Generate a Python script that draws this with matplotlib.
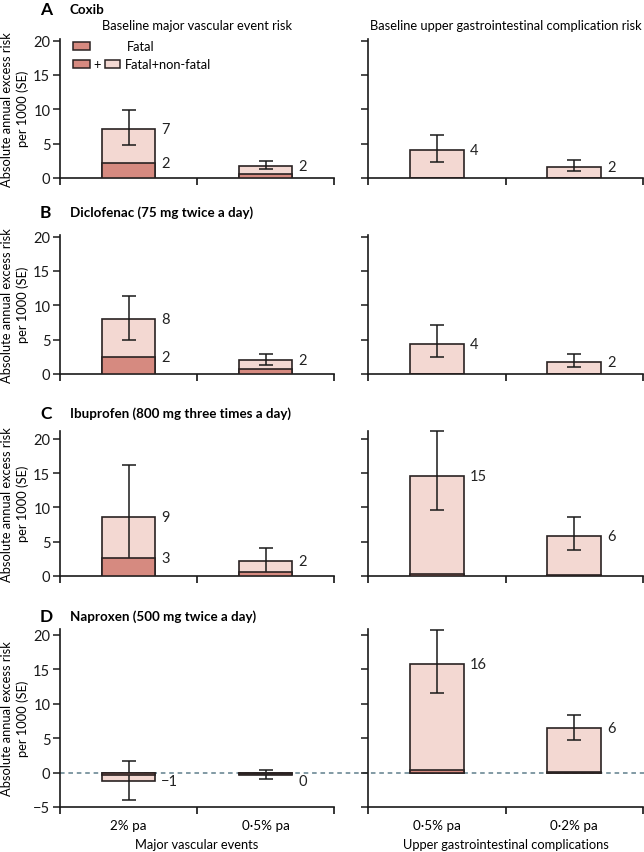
import numpy as np
import matplotlib.pyplot as plt
from matplotlib.patches import Rectangle
from matplotlib.lines import Line2D
import matplotlib.transforms as mtransforms

plt.rcParams['font.family'] = ['Lato', 'DejaVu Sans']

# panel titles
panel_letters = ['A', 'B', 'C', 'D']
panel_titles = ['Coxib', 'Diclofenac (75 mg twice a day)',
                'Ibuprofen (800 mg three times a day)', 'Naproxen (500 mg twice a day)']

# major vascular events (left column): total (fatal+non-fatal), fatal, error bar ends
mve_total = [[7.2, 1.8], [8.0, 2.08], [8.57, 2.14], [-1.25, -0.3]]
mve_fatal = [[2.2, 0.55], [2.42, 0.72], [2.55, 0.65], [-0.3, -0.15]]
mve_err_hi = [[9.9, 2.5], [11.4, 2.95], [16.2, 4.1], [1.7, 0.43]]
mve_err_lo = [[4.8, 1.25], [5.0, 1.3], [0.95, 0.2], [-4.0, -0.97]]
mve_lab_total = [['7', '2'], ['8', '2'], ['9', '2'], ['\u22121', '0']]
mve_lab_fatal = [['2', ''], ['2', ''], ['3', ''], ['', '']]

# upper gastrointestinal complications (right column)
gi_total = [[4.05, 1.65], [4.4, 1.8], [14.55, 5.9], [15.7, 6.4]]
gi_fatal = [[0.05, 0.03], [0.05, 0.03], [0.3, 0.1], [0.3, 0.1]]
gi_err_hi = [[6.3, 2.6], [7.07, 2.86], [21.2, 8.6], [20.7, 8.4]]
gi_err_lo = [[2.3, 1.0], [2.42, 1.0], [9.6, 3.8], [11.55, 4.7]]
gi_lab_total = [['4', '2'], ['4', '2'], ['15', '6'], ['16', '6']]

mve_xticklabels = ['2% pa', '0\u00b75% pa']
gi_xticklabels = ['0\u00b75% pa', '0\u00b72% pa']

dark = '#d68a80'
light = '#f3d8d2'
edge = '#2a2222'
fs = 9.3

W, H = 644, 853
fig = plt.figure(figsize=(W / 100, H / 100), dpi=100)


def box(x0, x1, ytop, ybot):
    return [x0 / W, 1 - ybot / H, (x1 - x0) / W, (ybot - ytop) / H]


# pixel layout of each row: (ylim, top px, bottom px)
rows = [((0, 20.3), 39.5, 179), ((0, 20.3), 235.5, 375),
        ((0, 21.2), 431.5, 577), ((-5, 20.8), 630, 808)]
cols = [(60, 334), (368, 643)]
xpos = np.array([0.5, 1.5])
bw = 0.39


def draw_panel(ax, total, fatal, ehi, elo, lab_t, lab_f):
    total = np.array(total)
    fatal = np.array(fatal)
    ax.bar(xpos, total, width=bw, color=light, edgecolor=edge, linewidth=1.2, zorder=1)
    yerr = [total - np.array(elo), np.array(ehi) - total]
    ax.errorbar(xpos, total, yerr=yerr, fmt='none', ecolor='#1a1a1a', elinewidth=1.1,
                capsize=5, capthick=1.1, zorder=2, clip_on=False)
    ax.bar(xpos, fatal, width=bw, color=dark, edgecolor=edge, linewidth=1.2, zorder=3)
    for x, t, f, lt, lf in zip(xpos, total, fatal, lab_t, lab_f):
        ty = t if t >= 0 else min(t, -1.2) - 0.05
        ax.text(x + bw / 2 + 0.045, ty, lt, va='center', ha='left', fontsize=10.5, color='#222')
        if lf:
            ax.text(x + bw / 2 + 0.045, f, lf, va='center', ha='left', fontsize=10.5,
                    color='#222')


for r in range(4):
    ylim, ytop, ybot = rows[r]
    for c in range(2):
        x0, x1 = cols[c]
        ax = fig.add_axes(box(x0, x1, ytop, ybot))
        ax.patch.set_alpha(0)
        if c == 0:
            draw_panel(ax, mve_total[r], mve_fatal[r], mve_err_hi[r], mve_err_lo[r],
                       mve_lab_total[r], mve_lab_fatal[r])
        else:
            draw_panel(ax, gi_total[r], gi_fatal[r], gi_err_hi[r], gi_err_lo[r],
                       gi_lab_total[r], ['', ''])
        ax.set_xlim(0, 2)
        ax.set_ylim(*ylim)
        ax.set_yticks(np.arange(ylim[0], 21, 5))
        for s in ['top', 'right']:
            ax.spines[s].set_visible(False)
        for s in ['left', 'bottom']:
            ax.spines[s].set_linewidth(1.2)
            ax.spines[s].set_color('#1a1a1a')
        ax.tick_params(axis='y', direction='out', length=5, width=1.1, labelsize=10.5,
                       colors='#1a1a1a', pad=2)
        ax.set_xticks([0, 1, 2])
        ax.tick_params(axis='x', direction='out', length=5, width=1.1)
        ax.set_xticklabels([])
        if c == 1:
            ax.set_yticklabels([])
        else:
            ax.set_ylabel('Absolute annual excess risk\nper 1000 (SE)', fontsize=fs,
                          linespacing=1.3, labelpad=3, multialignment='center')
        if r == 3:
            lbls = mve_xticklabels if c == 0 else gi_xticklabels
            for x, l in zip(xpos, lbls):
                ax.text(x, -0.07, l, transform=ax.get_xaxis_transform(), ha='center',
                        va='top', fontsize=fs + 0.4)
            fig.text((x0 + x1) / 2 / W, 1 - 845 / H,
                     'Major vascular events' if c == 0 else
                     'Upper gastrointestinal complications', fontsize=fs,
                     ha='center', va='center')
            if c == 0:
                trans = mtransforms.blended_transform_factory(fig.transFigure, ax.transData)
                fig.add_artist(Line2D([x0 / W, 1.0], [0, 0], transform=trans,
                                      linestyle=(0, (3, 2.5)), color='#5f7f8c',
                                      linewidth=1.1, zorder=-1))
        if r == 0 and c == 0:
            # legend
            kw = dict(transform=ax.transAxes, clip_on=False, edgecolor=edge, linewidth=1.1)
            ax.add_patch(Rectangle((0.047, 0.918), 0.062, 0.057, facecolor=dark, **kw))
            ax.add_patch(Rectangle((0.047, 0.789), 0.062, 0.057, facecolor=dark, **kw))
            ax.add_patch(Rectangle((0.164, 0.789), 0.055, 0.057, facecolor=light, **kw))
            ax.text(0.135, 0.817, '+', transform=ax.transAxes, ha='center', va='center',
                    fontsize=fs)
            ax.text(0.245, 0.946, 'Fatal', transform=ax.transAxes, va='center', fontsize=fs)
            ax.text(0.237, 0.817, 'Fatal+non-fatal', transform=ax.transAxes, va='center',
                    fontsize=fs)

    title_y = [10, 213, 414, 617][r]
    fig.text(40 / W, 1 - title_y / H, panel_letters[r], fontsize=12.5, fontweight='bold',
             va='center', ha='left')
    fig.text(70 / W, 1 - title_y / H, panel_titles[r], fontsize=9.6, fontweight='bold',
             va='center', ha='left')

fig.text(197 / W, 1 - 26 / H, 'Baseline major vascular event risk', fontsize=fs,
         ha='center', va='center')
fig.text(506 / W, 1 - 26 / H, 'Baseline upper gastrointestinal complication risk',
         fontsize=fs, ha='center', va='center')

fig.savefig('out.png', dpi=100)
